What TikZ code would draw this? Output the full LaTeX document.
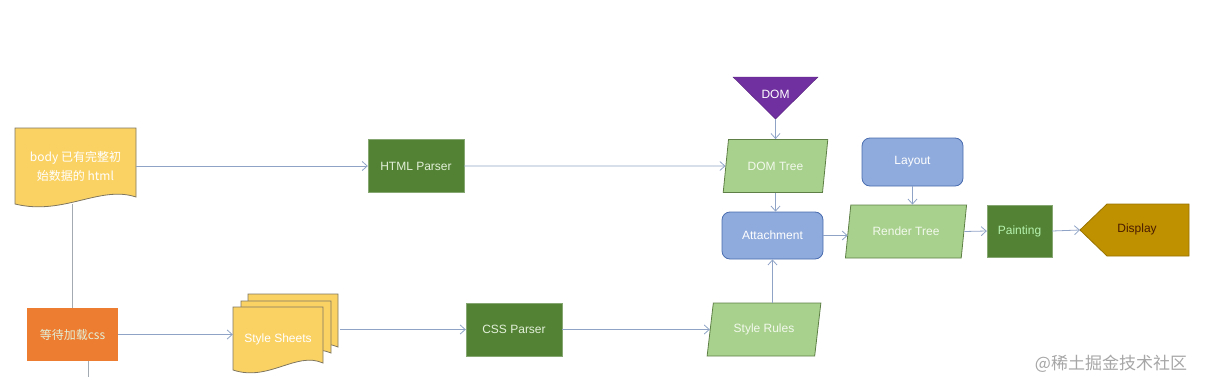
\documentclass[tikz,border=0pt]{standalone}
\usepackage{fontspec}
\setmainfont{Liberation Sans}
\newfontfamily\cjk{Noto Sans CJK SC}
\usetikzlibrary{shapes.geometric,arrows.meta}

\definecolor{linegray}{HTML}{8FA3C6}
\definecolor{leftgray}{HTML}{A3AAB2}
\definecolor{docyellow}{HTML}{FAD264}
\definecolor{docborder}{HTML}{7F7660}
\definecolor{waitorange}{HTML}{ED7D31}
\definecolor{parsergreen}{HTML}{548235}
\definecolor{parsertext}{HTML}{E2F0D9}
\definecolor{datagreen}{HTML}{A9D18E}
\definecolor{datatext}{HTML}{F2F9EC}
\definecolor{databorder}{HTML}{5E7F45}
\definecolor{procblue}{HTML}{8FAADC}
\definecolor{procborder}{HTML}{4A6DB0}
\definecolor{dompurple}{HTML}{7030A0}
\definecolor{displaygold}{HTML}{BF9000}
\definecolor{displaytext}{HTML}{4A1C00}
\definecolor{markgray}{HTML}{A6A6A6}

% document outline with wavy bottom: style, left, top, right, bottom
\newcommand{\wavedoc}[5]{%
  \draw[#1] (#2,#3) -- (#4,#3) -- (#4,#5-7)
    .. controls ({#4-0.3*(#4-#2)},#5-19) and ({#2+0.4*(#4-#2)},#5+12) .. (#2,#5) -- cycle;}

\tikzset{
  flow/.style={draw=leftgray, line width=0.8pt},
  arr/.style={draw=linegray, line width=0.8pt, -{Straight Barb[length=5pt,width=9pt]}},
  label font/.style={font=\fontsize{12}{19}\selectfont},
  docfill/.style={fill=docyellow, draw=docborder, line width=0.8pt},
  docnode/.style={label font, text=white, align=center, inner sep=0pt},
  parser/.style={rectangle, label font, fill=parsergreen, draw=parsergreen!70!white,
    text=parsertext, minimum width=96pt, minimum height=53pt},
  data/.style={trapezium, trapezium left angle=77, trapezium right angle=103,
    trapezium stretches=true, label font, fill=datagreen, draw=databorder,
    text=datatext, minimum height=53pt, line width=0.8pt},
  proc/.style={rectangle, rounded corners=8pt, label font, fill=procblue,
    draw=procborder, text=white, minimum width=101pt, minimum height=47pt, line width=0.8pt}
}

\begin{document}
\begin{tikzpicture}[x=1pt, y=-1pt]
\useasboundingbox (0,0) rectangle (1205,388);

% left column
\wavedoc{docfill}{15}{128}{136}{204}
\node[docnode, minimum width=121pt, minimum height=76pt, font=\cjk\fontsize{12}{19}\selectfont]
  (body) at (75.5,166) {body 已有完整初\\始数据的 html};
\node[rectangle, fill=waitorange, text=parsertext, minimum width=91pt, minimum height=53pt,
  font=\cjk\fontsize{12}{14}\selectfont] (wait) at (72.5,334.5) {等待加载css};
\coordinate (waitend) at (88,377);

% style sheets stack
\wavedoc{docfill}{248}{294}{338}{354}
\wavedoc{docfill}{241}{301}{331}{360}
\wavedoc{docfill}{233}{307}{323}{370}
\node[docnode, minimum width=90pt, minimum height=63pt] (sheets) at (278,339) {Style Sheets};

% parsers
\node[parser] (html) at (416,166) {HTML Parser};
\node[parser] (css) at (514,329.5) {CSS Parser};

% dom and trees
\draw[fill=dompurple, draw=dompurple!80!black] (733,77) -- (818,77) -- (775.5,119) -- cycle;
\node[label font, text=white] (dom) at (775.5,94) {DOM};
\coordinate (domtip) at (775.5,119);
\node[data, minimum width=105pt] (domtree) at (775.5,166) {DOM Tree};
\node[data, minimum width=114pt] (rules) at (764,329.5) {Style Rules};
\node[proc] (attach) at (772.5,235.5) {Attachment};
\node[proc, minimum height=48pt] (layout) at (912.5,162) {Layout};
\node[data, minimum width=122pt] (render) at (906,231.5) {Render Tree};
\node[parser, minimum width=65pt, minimum height=52pt, text=parsertext!80!green] (paint) at (1019.5,231) {Painting};

% display
\draw[fill=displaygold, draw=displaygold!80!black, line width=0.8pt]
  (1080,230) -- (1107,204) -- (1189,204) -- (1189,256) -- (1107,256) -- cycle;
\node[label font, text=displaytext] (display) at (1137,229) {Display};
\coordinate (disptip) at (1080,230);

% connectors
\draw[flow] (wait.north |- body.south) -- (wait.north);
\draw[flow] (wait.south -| waitend) -- (waitend);
\draw[arr] (body.east) -- (html.west);
\draw[arr] (html.east) -- (domtree.west);
\draw[arr] (wait.east) -- (wait.east -| sheets.west);
\draw[arr] ([xshift=17pt]sheets.east |- css.west) -- (css.west);
\draw[arr] (css.east) -- (rules.west);
\draw[arr] (domtip) -- (domtree.north);
\draw[arr] (domtree.south) -- (domtree.south |- attach.north);
\draw[arr] (attach.south |- rules.north) -- (attach.south);
\draw[arr] (attach.east) -- (attach.east -| render.west);
\draw[arr] (layout.south) -- (layout.south |- render.north);
\draw[arr] (render.east) -- (paint.west);
\draw[arr] (paint.east) -- (disptip);

% watermark
\node[font=\cjk\fontsize{17}{20}\selectfont, text=markgray] (mark) at (1111,364) {@稀土掘金技术社区};
\end{tikzpicture}
\end{document}
